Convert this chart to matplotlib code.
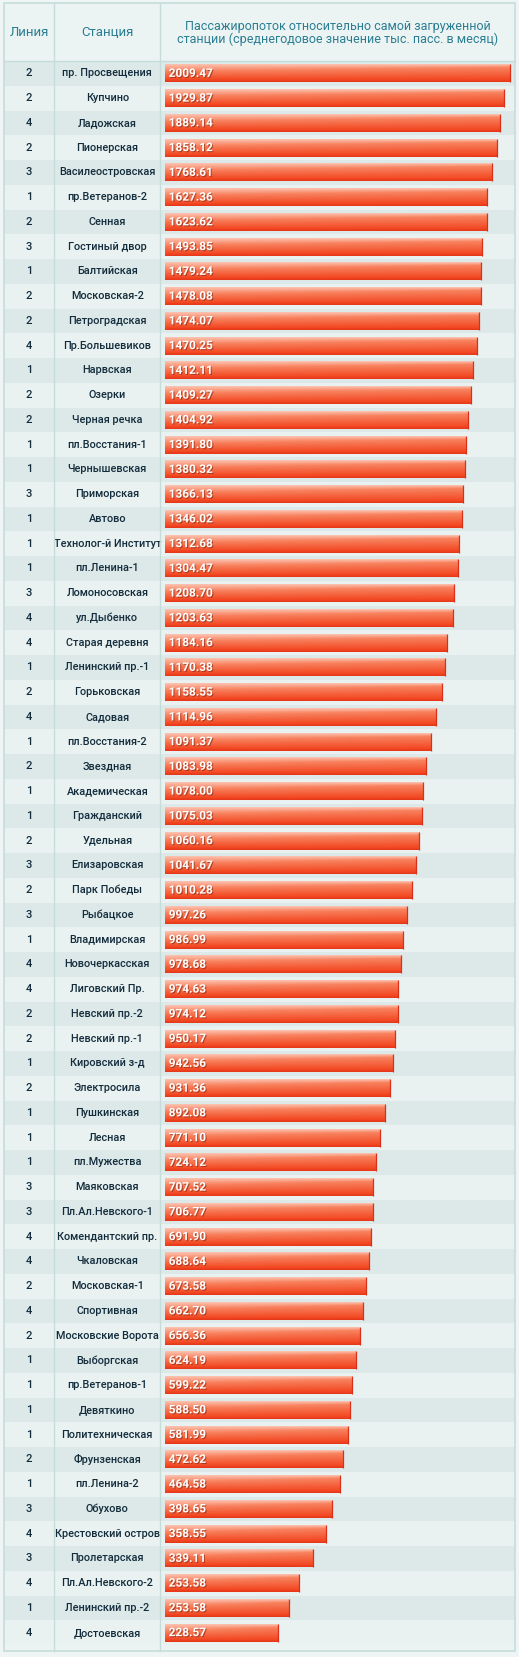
import matplotlib
matplotlib.use('Agg')
import matplotlib.pyplot as plt
import matplotlib.patheffects as pe
from matplotlib.colors import to_rgb
from matplotlib.patches import Rectangle
import numpy as np

# ---- data ----
lines = [2, 2, 4, 2, 3, 1, 2, 3, 1, 2, 2, 4, 1, 2, 2, 1, 1, 3, 1, 1, 1, 3,
         4, 4, 1, 2, 4, 1, 2, 1, 1, 2, 3, 2, 3, 1, 4, 4, 2, 2, 1, 2, 1, 1,
         1, 3, 3, 4, 4, 2, 4, 2, 1, 1, 1, 1, 2, 1, 3, 4, 3, 4, 1, 4]

stations = ["пр. Просвещения", "Купчино", "Ладожская", "Пионерская",
            "Василеостровская", "пр.Ветеранов-2", "Сенная", "Гостиный двор",
            "Балтийская", "Московская-2", "Петроградская", "Пр.Большевиков",
            "Нарвская", "Озерки", "Черная речка", "пл.Восстания-1",
            "Чернышевская", "Приморская", "Автово", "Технолог-й Институт",
            "пл.Ленина-1", "Ломоносовская", "ул.Дыбенко", "Старая деревня",
            "Ленинский пр.-1", "Горьковская", "Садовая", "пл.Восстания-2",
            "Звездная", "Академическая", "Гражданский", "Удельная",
            "Елизаровская", "Парк Победы", "Рыбацкое", "Владимирская",
            "Новочеркасская", "Лиговский Пр.", "Невский пр.-2", "Невский пр.-1",
            "Кировский з-д", "Электросила", "Пушкинская", "Лесная",
            "пл.Мужества", "Маяковская", "Пл.Ал.Невского-1", "Комендантский пр.",
            "Чкаловская", "Московская-1", "Спортивная", "Московские Ворота",
            "Выборгская", "пр.Ветеранов-1", "Девяткино", "Политехническая",
            "Фрунзенская", "пл.Ленина-2", "Обухово", "Крестовский остров",
            "Пролетарская", "Пл.Ал.Невского-2", "Ленинский пр.-2", "Достоевская"]

values = [2009.47, 1929.87, 1889.14, 1858.12, 1768.61, 1627.36, 1623.62, 1493.85,
          1479.24, 1478.08, 1474.07, 1470.25, 1412.11, 1409.27, 1404.92, 1391.80,
          1380.32, 1366.13, 1346.02, 1312.68, 1304.47, 1208.70, 1203.63, 1184.16,
          1170.38, 1158.55, 1114.96, 1091.37, 1083.98, 1078.00, 1075.03, 1060.16,
          1041.67, 1010.28, 997.26, 986.99, 978.68, 974.63, 974.12, 950.17,
          942.56, 931.36, 892.08, 771.10, 724.12, 707.52, 706.77, 691.90,
          688.64, 673.58, 662.70, 656.36, 624.19, 599.22, 588.50, 581.99,
          472.62, 464.58, 398.65, 358.55, 339.11, 253.58, 253.58, 228.57]

# drawn bar length, % of the longest bar (the bars are not linear in the values)
bar_pct = [100.0, 98.3, 97.1, 96.2, 94.8, 93.3, 93.3, 91.9, 91.6, 91.6, 91.0,
           90.4, 89.3, 88.7, 87.8, 87.2, 86.9, 86.4, 86.1, 85.2, 84.9, 83.7,
           83.4, 81.7, 81.1, 80.3, 78.5, 77.1, 75.6, 74.7, 74.4, 73.6, 72.7,
           71.5, 70.1, 68.9, 68.4, 67.5, 67.5, 66.6, 66.0, 65.2, 63.7, 62.3,
           61.1, 60.2, 60.2, 59.6, 59.1, 58.2, 57.3, 56.4, 55.3, 54.1, 53.5,
           53.0, 51.5, 50.6, 48.3, 46.6, 42.8, 38.7, 35.8, 32.6]

col_titles = ["Линия", "Станция",
              "Пассажиропоток относительно самой загруженной\n"
              "станции (среднегодовое значение тыс. пасс. в месяц)"]

# ---- layout (pixels, top-down) ----
W, H = 519, 1657
tbl_l, tbl_r = 4, 515
sep1, sep2 = 54.3, 160.3
bar_x0 = 165.3
full_bar = 344.4
head_top, body_top, body_bot, tbl_bot = 3, 61, 1645, 1651

border_c = '#c6dcd9'
dark_row = '#dde9e9'
light_row = '#e9f2f1'
head_bg = '#ebf4f3'
text_c = '#132c3c'
head_c = '#2b7d92'

plt.rcParams['font.family'] = ['Roboto', 'DejaVu Sans']

fig = plt.figure(figsize=(W / 100, H / 100), dpi=100, facecolor='#eef5f4')

n = len(stations)
row_h = (body_bot - body_top) / n


def fx(px):
    return px / W


def fy(px):
    return 1 - px / H


body_pos = [fx(tbl_l), fy(tbl_bot), fx(tbl_r - tbl_l), (tbl_bot - body_top) / H]
ylim = (n - 0.5 + (tbl_bot - body_bot) / row_h, -0.5)

##### background + text columns
ax = fig.add_axes(body_pos)
ax.set_facecolor(head_bg)
ax.set_xlim(tbl_l, tbl_r)
ax.set_ylim(*ylim)
ax.axis('off')
ax.add_patch(Rectangle((tbl_l, ylim[1]), tbl_r - tbl_l, ylim[0] - ylim[1],
                       facecolor=head_bg, edgecolor='none', zorder=0))
for i in range(n):
    ax.axhspan(i - 0.5, i + 0.5, color=dark_row if i % 2 == 0 else light_row,
               lw=0, zorder=1)
    ax.text((tbl_l + sep1) / 2, i, str(lines[i]), ha='center', va='center',
            fontsize=8, color=text_c, fontweight='medium', zorder=3)
    ax.text((sep1 + sep2) / 2, i, stations[i], ha='center', va='center',
            fontsize=7.8, color=text_c, fontweight='medium', zorder=3)

##### bars
bx = fig.add_axes([fx(bar_x0), body_pos[1], fx(tbl_r - bar_x0), body_pos[3]],
                  sharey=ax)
bx.patch.set_alpha(0)
bx.axis('off')
xmax = 100 * (tbl_r - bar_x0) / full_bar

bars = bx.barh(range(n), bar_pct, height=0.72, left=0, color='#f4532c',
               edgecolor='none', zorder=2)

# glossy vertical gradient with a slight diagonal, clipped to each bar
top_c = np.array(to_rgb('#fcc3b1'))
mid_c = np.array(to_rgb('#f8825f'))
low_c = np.array(to_rgb('#f24a24'))
bot_c = np.array(to_rgb('#e5361a'))
ny, nx = 40, 80
ty = np.linspace(0, 1, ny)[:, None]
tx = np.linspace(0, 1, nx)[None, :]
edge = 0.18 + 0.22 * (1 - tx)
a = np.clip(ty / edge, 0, 1)[..., None]
b = np.clip((ty - edge) / (0.85 - edge), 0, 1)[..., None]
c = np.clip((ty - 0.85) / 0.15, 0, 1)[..., None]
grad = top_c * (1 - a) + mid_c * a
grad = grad * (1 - b) + low_c * b
grad = grad * (1 - c) + bot_c * c

for bar, v in zip(bars, values):
    x0, y0 = bar.get_x(), bar.get_y()
    w, h = bar.get_width(), bar.get_height()
    im = bx.imshow(grad, extent=[x0, x0 + w, y0 + h, y0], aspect='auto',
                   interpolation='bilinear', zorder=3)
    im.set_clip_path(bar)
    bx.plot([x0 + w, x0 + w], [y0, y0 + h], color='#d9301a', lw=0.9,
            solid_capstyle='butt', zorder=4)
    bx.text(1.0, bar.get_y() + h / 2, f'{v:.2f}', ha='left', va='center',
            color='white', fontsize=8.5, fontweight='bold', zorder=5,
            path_effects=[pe.SimplePatchShadow(offset=(0.8, -0.8),
                                               shadow_rgbFace='#7a2410',
                                               alpha=0.55),
                          pe.Normal()])

bx.set_xlim(0, xmax)
bx.set_ylim(*ylim)

##### header and table grid
ov = fig.add_axes([0, 0, 1, 1])
ov.patch.set_alpha(0)
ov.set_xlim(0, W)
ov.set_ylim(H, 0)
ov.axis('off')
ov.add_patch(Rectangle((tbl_l, head_top), tbl_r - tbl_l, body_top - head_top,
                       facecolor=head_bg, edgecolor='none', zorder=0))
ov.add_patch(Rectangle((tbl_l, head_top), tbl_r - tbl_l, tbl_bot - head_top,
                       facecolor='none', edgecolor=border_c, lw=1.2, zorder=5))
for xs in (sep1, sep2):
    ov.plot([xs, xs], [head_top, tbl_bot], color=border_c, lw=1.0, zorder=5)
ov.plot([tbl_l, tbl_r], [body_top, body_top], color=border_c, lw=1.0, zorder=5)

head_y = (head_top + body_top) / 2 + 1
ov.text((tbl_l + sep1) / 2, head_y, col_titles[0], ha='center', va='center',
        fontsize=9.5, color=head_c)
ov.text((sep1 + sep2) / 2, head_y, col_titles[1], ha='center', va='center',
        fontsize=9.5, color=head_c)
ov.text((sep2 + tbl_r) / 2, head_y, col_titles[2], ha='center', va='center',
        fontsize=9.0, color=head_c, linespacing=0.95)

fig.savefig('out.png', dpi=100, facecolor=fig.get_facecolor())
